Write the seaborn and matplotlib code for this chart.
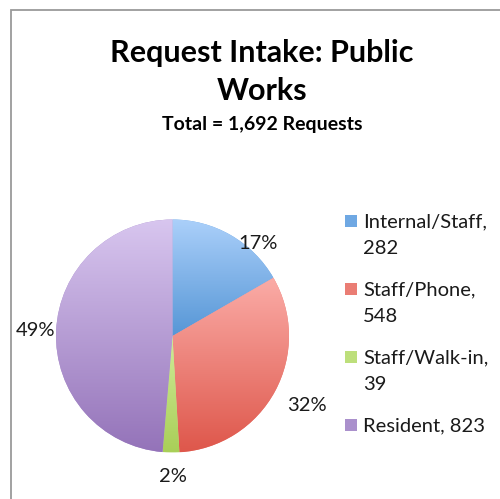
import textwrap
import numpy as np
import matplotlib
matplotlib.use("Agg")
import matplotlib.pyplot as plt
from matplotlib.colors import to_rgb
from matplotlib.patches import Rectangle
import seaborn as sns

# ---- data ----
categories = ["Internal/Staff", "Staff/Phone", "Staff/Walk-in", "Resident"]
values = [282, 548, 39, 823]
title_text = "Request Intake: Public\nWorks"
subtitle_text = "Total = 1,692 Requests"

# ---- style ----
top_colors = ["#abd0fa", "#fbaca7", "#d0eb9a", "#d8c6ef"]
bottom_colors = ["#5696d6", "#de574b", "#a9cf58", "#9473b9"]
legend_colors = ["#6fa8e3", "#ea7d74", "#bddf7b", "#aa90cc"]

sns.set_style("white")
plt.rcParams["font.family"] = ["Lato", "DejaVu Sans"]

fig = plt.figure(figsize=(5.0, 4.99), dpi=100)
W, H = 500, 499

def fx(px):
    return px / W

def fy(py):
    return 1 - py / H

# figure border
fig.patches.append(Rectangle((fx(11), fy(520)), fx(560), (520 - 10) / H, transform=fig.transFigure,
                             fill=False, edgecolor="#9a9a9a", linewidth=1.3))

cx, cy, r = 172.5, 336, 116.5
ax = fig.add_axes([fx(cx - r), fy(cy + r), 2 * r / W, 2 * r / H])

wedges, texts, autotexts = ax.pie(values, startangle=90, counterclock=False,
                                  autopct="%.0f%%", colors=legend_colors,
                                  wedgeprops=dict(linewidth=0),
                                  textprops=dict(fontsize=14.5, color="#1a1a1a"))

for w, ct, cb in zip(wedges, top_colors, bottom_colors):
    bb = w.get_path().get_extents()
    t = np.array(to_rgb(ct))
    b = np.array(to_rgb(cb))
    s = np.linspace(0, 1, 256)[:, None]
    grad = (t[None, :] * (1 - s) + b[None, :] * s)[:, None, :]
    im = ax.imshow(grad, extent=[bb.x0, bb.x1, bb.y0, bb.y1], origin="upper",
                   aspect="auto", interpolation="bilinear", zorder=w.get_zorder() + 0.1)
    im.set_clip_path(w)

# label placement: radial distance factors and angle tweaks (style)
dist = [1.08, 1.30, 1.21, 1.18]
dtheta = [-13, 1, 1, 0]
for w, at, d, dt in zip(wedges, autotexts, dist, dtheta):
    th = np.deg2rad((w.theta1 + w.theta2) / 2 + dt)
    at.set_position((d * np.cos(th), d * np.sin(th)))
    at.set_ha("center")
    at.set_va("center")
    at.set_zorder(5)
    at.set_clip_on(False)

ax.set_aspect("equal")
ax.set_xlim(-1, 1)
ax.set_ylim(-1, 1)
ax.axis("off")

# titles
fig.text(fx(262), fy(72), title_text, ha="center", va="center", fontsize=22,
         fontweight="bold", linespacing=1.45, color="#000000")
fig.text(fx(262), fy(125), subtitle_text, ha="center", va="center", fontsize=14,
         fontweight="bold", color="#000000")

# legend (manual, Excel-like wrapping)
y_first = 222
for cat, val, col in zip(categories, values, legend_colors):
    label = textwrap.fill(f"{cat}, {val}", width=15)
    nlines = label.count("\n") + 1
    fig.patches.append(Rectangle((fx(345), fy(y_first + 5)), 12 / W, 12 / H,
                                 transform=fig.transFigure, facecolor=col, edgecolor="none"))
    fig.text(fx(363), fy(y_first - 9), label, ha="left", va="top", fontsize=14.5,
             linespacing=1.7, color="#1a1a1a")
    y_first += nlines * 22 + 24

fig.savefig("out.png", dpi=100)
